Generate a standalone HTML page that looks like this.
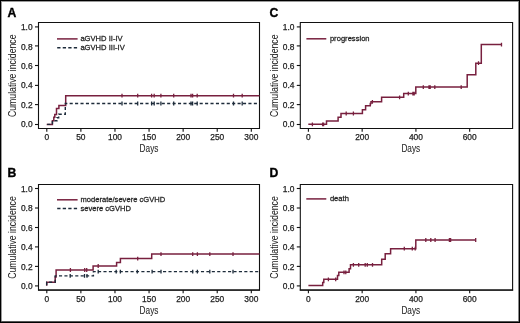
<!DOCTYPE html>
<html><head><meta charset="utf-8"><style>
html,body{margin:0;padding:0;background:#fff;}
body{width:520px;height:323px;overflow:hidden;}
svg{display:block;will-change:transform;}
text{font-family:"Liberation Sans",sans-serif;}
.tk{font-size:8.4px;fill:#222;stroke:#222;stroke-width:0.25px;}
.ttl{font-size:10.6px;fill:#222;stroke:#222;stroke-width:0.05px;}
.lg{font-size:8.0px;fill:#222;stroke:#222;stroke-width:0.25px;}
.pl{font-size:12.2px;font-weight:bold;fill:#000;stroke:#000;stroke-width:0.35px;}
</style></head><body>
<svg width="520" height="323" viewBox="0 0 520 323">
<rect x="0" y="0" width="520" height="323" fill="#fff"/>
<path d="M38.5 22.5H259.5V128.5H38.5Z" fill="none" stroke="#111" stroke-width="1.1"/>
<path d="M35 124.5H38.5" stroke="#111" stroke-width="1.1"/>
<text x="32.6" y="127" class="tk" text-anchor="end">0.0</text>
<path d="M35 104.6H38.5" stroke="#111" stroke-width="1.1"/>
<text x="32.6" y="108" class="tk" text-anchor="end">0.2</text>
<path d="M35 85.4H38.5" stroke="#111" stroke-width="1.1"/>
<text x="32.6" y="88" class="tk" text-anchor="end">0.4</text>
<path d="M35 65.5H38.5" stroke="#111" stroke-width="1.1"/>
<text x="32.6" y="69" class="tk" text-anchor="end">0.6</text>
<path d="M35 45.9H38.5" stroke="#111" stroke-width="1.1"/>
<text x="32.6" y="50" class="tk" text-anchor="end">0.8</text>
<path d="M35 26.9H38.5" stroke="#111" stroke-width="1.1"/>
<text x="32.6" y="30" class="tk" text-anchor="end">1.0</text>
<path d="M46.8 128.5V131.8" stroke="#111" stroke-width="1.1"/>
<text x="46.8" y="140" class="tk" text-anchor="middle">0</text>
<path d="M80.88 128.5V131.8" stroke="#111" stroke-width="1.1"/>
<text x="80.88" y="140" class="tk" text-anchor="middle">50</text>
<path d="M114.97 128.5V131.8" stroke="#111" stroke-width="1.1"/>
<text x="114.97" y="140" class="tk" text-anchor="middle">100</text>
<path d="M149.06 128.5V131.8" stroke="#111" stroke-width="1.1"/>
<text x="149.06" y="140" class="tk" text-anchor="middle">150</text>
<path d="M183.14 128.5V131.8" stroke="#111" stroke-width="1.1"/>
<text x="183.14" y="140" class="tk" text-anchor="middle">200</text>
<path d="M217.22 128.5V131.8" stroke="#111" stroke-width="1.1"/>
<text x="217.22" y="140" class="tk" text-anchor="middle">250</text>
<path d="M251.31 128.5V131.8" stroke="#111" stroke-width="1.1"/>
<text x="251.31" y="140" class="tk" text-anchor="middle">300</text>
<text transform="translate(149 151.6) scale(0.78 1)" class="ttl" text-anchor="middle">Days</text>
<text transform="translate(15.9 75.75) rotate(-90) scale(0.82 1)" class="ttl" text-anchor="middle">Cumulative incidence</text>
<path d="M57 38.9H77.6" stroke="#78203f" stroke-width="1.5"/>
<text transform="translate(80.4 41) scale(0.95 1)" class="lg">aGVHD II-IV</text>
<path d="M57.2 47.7H77.6" stroke="#1d2b3a" stroke-width="1.5" stroke-dasharray="3.3 2.23"/>
<text transform="translate(80.4 50) scale(0.95 1)" class="lg">aGVHD III-IV</text>
<path d="M46.7 124.4H52.4V120.7H53.8V117.3H54.8V114.5H56.5V108.4H58.9V105.4H65.7V95.7H259.5" fill="none" stroke="#78203f" stroke-width="1.5"/>
<path d="M46.7 124.4H52.4V120.8H57V117.7H58.7V114.2H65.3V103.5H259.5" fill="none" stroke="#1d2b3a" stroke-width="1.4" stroke-dasharray="3.1 2.317" stroke-dashoffset="4.91"/>
<path d="M122 93.8v3.8M137.7 93.8v3.8M151.6 93.8v3.8M154.2 93.8v3.8M160.9 93.8v3.8M173.7 93.8v3.8M191 93.8v3.8M192.6 93.8v3.8M197.2 93.8v3.8M233.5 93.8v3.8M242.2 93.8v3.8" stroke="#78203f" stroke-width="1.3" fill="none"/>
<path d="M122 101.6v3.8M137.7 101.6v3.8M151.6 101.6v3.8M154.2 101.6v3.8M160.9 101.6v3.8M173.7 101.6v3.8M191 101.6v3.8M192.6 101.6v3.8M197.2 101.6v3.8M233.5 101.6v3.8M242.2 101.6v3.8" stroke="#1d2b3a" stroke-width="1.3" fill="none"/>
<path d="M38.5 184.5H259.5V290H38.5Z" fill="none" stroke="#111" stroke-width="1.1"/>
<path d="M37.95 290H260.05" stroke="#111" stroke-width="1.25"/>
<path d="M35 285.9H38.5" stroke="#111" stroke-width="1.1"/>
<text x="32.6" y="289" class="tk" text-anchor="end">0.0</text>
<path d="M35 266.4H38.5" stroke="#111" stroke-width="1.1"/>
<text x="32.6" y="270" class="tk" text-anchor="end">0.2</text>
<path d="M35 246.9H38.5" stroke="#111" stroke-width="1.1"/>
<text x="32.6" y="250" class="tk" text-anchor="end">0.4</text>
<path d="M35 227.5H38.5" stroke="#111" stroke-width="1.1"/>
<text x="32.6" y="231" class="tk" text-anchor="end">0.6</text>
<path d="M35 208H38.5" stroke="#111" stroke-width="1.1"/>
<text x="32.6" y="211" class="tk" text-anchor="end">0.8</text>
<path d="M35 188.5H38.5" stroke="#111" stroke-width="1.1"/>
<text x="32.6" y="192" class="tk" text-anchor="end">1.0</text>
<path d="M46.8 290V293.3" stroke="#111" stroke-width="1.1"/>
<text x="46.8" y="302" class="tk" text-anchor="middle">0</text>
<path d="M80.88 290V293.3" stroke="#111" stroke-width="1.1"/>
<text x="80.88" y="302" class="tk" text-anchor="middle">50</text>
<path d="M114.97 290V293.3" stroke="#111" stroke-width="1.1"/>
<text x="114.97" y="302" class="tk" text-anchor="middle">100</text>
<path d="M149.06 290V293.3" stroke="#111" stroke-width="1.1"/>
<text x="149.06" y="302" class="tk" text-anchor="middle">150</text>
<path d="M183.14 290V293.3" stroke="#111" stroke-width="1.1"/>
<text x="183.14" y="302" class="tk" text-anchor="middle">200</text>
<path d="M217.22 290V293.3" stroke="#111" stroke-width="1.1"/>
<text x="217.22" y="302" class="tk" text-anchor="middle">250</text>
<path d="M251.31 290V293.3" stroke="#111" stroke-width="1.1"/>
<text x="251.31" y="302" class="tk" text-anchor="middle">300</text>
<text transform="translate(149 314.1) scale(0.78 1)" class="ttl" text-anchor="middle">Days</text>
<text transform="translate(15.9 237.5) rotate(-90) scale(0.82 1)" class="ttl" text-anchor="middle">Cumulative incidence</text>
<path d="M57 199.8H77.6" stroke="#78203f" stroke-width="1.5"/>
<text transform="translate(80.4 202) scale(0.95 1)" class="lg">moderate/severe cGVHD</text>
<path d="M57.2 208.6H77.6" stroke="#1d2b3a" stroke-width="1.5" stroke-dasharray="3.3 2.23"/>
<text transform="translate(80.4 211) scale(0.95 1)" class="lg">severe cGVHD</text>
<path d="M46.7 285.7V282.3H55.2V277H56.1V270H93.1V266H116.6V262.4H120.4V258.6H151.7V254.1H259.5" fill="none" stroke="#78203f" stroke-width="1.5"/>
<path d="M46.7 285.7V282.3H55.2V275.9H93.4V271.6H259.5" fill="none" stroke="#1d2b3a" stroke-width="1.4" stroke-dasharray="3.1 2.317" stroke-dashoffset="4.99"/>
<path d="M70.4 268.1v3.8M84.7 268.1v3.8M86.7 268.1v3.8M98.2 264.1v3.8M137.7 256.7v3.8M161 252.2v3.8M192.7 252.2v3.8M197.4 252.2v3.8M209.8 252.2v3.8M233 252.2v3.8" stroke="#78203f" stroke-width="1.3" fill="none"/>
<path d="M70.2 274v3.8M84.5 274v3.8M87 274v3.8M98.2 269.7v3.8M116.2 269.7v3.8M120.4 269.7v3.8M137.3 269.7v3.8M152.1 269.7v3.8M161 269.7v3.8M192.7 269.7v3.8M197.4 269.7v3.8M209.8 269.7v3.8M233 269.7v3.8" stroke="#1d2b3a" stroke-width="1.3" fill="none"/>
<path d="M300.3 22.5H512.6V128.5H300.3Z" fill="none" stroke="#111" stroke-width="1.1"/>
<path d="M296.8 124.5H300.3" stroke="#111" stroke-width="1.1"/>
<text x="294.4" y="127" class="tk" text-anchor="end">0.0</text>
<path d="M296.8 104.6H300.3" stroke="#111" stroke-width="1.1"/>
<text x="294.4" y="108" class="tk" text-anchor="end">0.2</text>
<path d="M296.8 85.4H300.3" stroke="#111" stroke-width="1.1"/>
<text x="294.4" y="88" class="tk" text-anchor="end">0.4</text>
<path d="M296.8 65.5H300.3" stroke="#111" stroke-width="1.1"/>
<text x="294.4" y="69" class="tk" text-anchor="end">0.6</text>
<path d="M296.8 45.9H300.3" stroke="#111" stroke-width="1.1"/>
<text x="294.4" y="50" class="tk" text-anchor="end">0.8</text>
<path d="M296.8 26.9H300.3" stroke="#111" stroke-width="1.1"/>
<text x="294.4" y="30" class="tk" text-anchor="end">1.0</text>
<path d="M308.4 128.5V131.8" stroke="#111" stroke-width="1.1"/>
<text x="308.4" y="140" class="tk" text-anchor="middle">0</text>
<path d="M362.16 128.5V131.8" stroke="#111" stroke-width="1.1"/>
<text x="362.16" y="140" class="tk" text-anchor="middle">200</text>
<path d="M415.92 128.5V131.8" stroke="#111" stroke-width="1.1"/>
<text x="415.92" y="140" class="tk" text-anchor="middle">400</text>
<path d="M469.68 128.5V131.8" stroke="#111" stroke-width="1.1"/>
<text x="469.68" y="140" class="tk" text-anchor="middle">600</text>
<text transform="translate(410.8 151.6) scale(0.78 1)" class="ttl" text-anchor="middle">Days</text>
<text transform="translate(277.7 75.75) rotate(-90) scale(0.82 1)" class="ttl" text-anchor="middle">Cumulative incidence</text>
<path d="M306.4 38.8H326.3" stroke="#78203f" stroke-width="1.5"/>
<text transform="translate(329.9 41) scale(0.95 1)" class="lg">progression</text>
<path d="M308.3 124.3H326.5V120.9H338.1V117.2H341V113.5H362.4V109.7H365.6V105.8H370.3V103.5H371V101.8H381.6V97.3H403.7V93.6H415.8V87.1H467.2V74.8H475.8V63.2H481.3V44.6H501.5" fill="none" stroke="#78203f" stroke-width="1.5"/>
<path d="M312.4 122.4v3.8M322.6 122.4v3.8M323.6 122.4v3.8M346.2 111.6v3.8M353.4 111.6v3.8M372.4 99.9v3.8M399.6 95.4v3.8M408.3 91.7v3.8M412.9 91.7v3.8M414.2 91.7v3.8M423.3 85.2v3.8M429 85.2v3.8M430.2 85.2v3.8M434.8 85.2v3.8M461.2 85.2v3.8M478.5 61.3v3.8M501.5 42.7v3.8" stroke="#78203f" stroke-width="1.3" fill="none"/>
<path d="M300.3 184.5H512.6V290H300.3Z" fill="none" stroke="#111" stroke-width="1.1"/>
<path d="M299.75 290H513.15" stroke="#111" stroke-width="1.25"/>
<path d="M296.8 285.9H300.3" stroke="#111" stroke-width="1.1"/>
<text x="294.4" y="289" class="tk" text-anchor="end">0.0</text>
<path d="M296.8 266.4H300.3" stroke="#111" stroke-width="1.1"/>
<text x="294.4" y="270" class="tk" text-anchor="end">0.2</text>
<path d="M296.8 246.9H300.3" stroke="#111" stroke-width="1.1"/>
<text x="294.4" y="250" class="tk" text-anchor="end">0.4</text>
<path d="M296.8 227.5H300.3" stroke="#111" stroke-width="1.1"/>
<text x="294.4" y="231" class="tk" text-anchor="end">0.6</text>
<path d="M296.8 208H300.3" stroke="#111" stroke-width="1.1"/>
<text x="294.4" y="211" class="tk" text-anchor="end">0.8</text>
<path d="M296.8 188.5H300.3" stroke="#111" stroke-width="1.1"/>
<text x="294.4" y="192" class="tk" text-anchor="end">1.0</text>
<path d="M308.4 290V293.3" stroke="#111" stroke-width="1.1"/>
<text x="308.4" y="302" class="tk" text-anchor="middle">0</text>
<path d="M362.16 290V293.3" stroke="#111" stroke-width="1.1"/>
<text x="362.16" y="302" class="tk" text-anchor="middle">200</text>
<path d="M415.92 290V293.3" stroke="#111" stroke-width="1.1"/>
<text x="415.92" y="302" class="tk" text-anchor="middle">400</text>
<path d="M469.68 290V293.3" stroke="#111" stroke-width="1.1"/>
<text x="469.68" y="302" class="tk" text-anchor="middle">600</text>
<text transform="translate(410.8 314.1) scale(0.78 1)" class="ttl" text-anchor="middle">Days</text>
<text transform="translate(277.7 237.5) rotate(-90) scale(0.82 1)" class="ttl" text-anchor="middle">Cumulative incidence</text>
<path d="M306.3 198.9H326.3" stroke="#78203f" stroke-width="1.5"/>
<text transform="translate(329.9 201) scale(0.95 1)" class="lg">death</text>
<path d="M308.4 285.6H322.7V282.5H323.8V279.3H337.5V275.5H338.8V272.3H349.1V268.8H350.5V264.8H381.7V259.2H385.2V253.7H390.6V248.7H415.8V240H475.7" fill="none" stroke="#78203f" stroke-width="1.5"/>
<path d="M328.4 277.4v3.8M335.7 277.4v3.8M344 270.4v3.8M345.8 270.4v3.8M353.4 262.9v3.8M358.7 262.9v3.8M365.2 262.9v3.8M367.3 262.9v3.8M372.5 262.9v3.8M404.3 246.8v3.8M412.3 246.8v3.8M415.2 246.8v3.8M425.8 238.1v3.8M430.8 238.1v3.8M435.1 238.1v3.8M449.4 238.1v3.8M450.6 238.1v3.8M475.7 238.1v3.8" stroke="#78203f" stroke-width="1.3" fill="none"/>
<text x="7.6" y="16.8" class="pl">A</text>
<text x="7.6" y="176.6" class="pl">B</text>
<text x="269.4" y="16.8" class="pl">C</text>
<text x="269.4" y="176.6" class="pl">D</text>
<rect x="1" y="1" width="518" height="1" fill="#9a9a9a"/>
<rect x="1" y="1" width="1" height="321" fill="#9a9a9a"/>
<rect x="518" y="1" width="1" height="321" fill="#888"/>
<rect x="1" y="321" width="518" height="1" fill="#555"/>
<rect x="0" y="0" width="520" height="1" fill="#000"/>
<rect x="0" y="0" width="1" height="323" fill="#000"/>
<rect x="519" y="0" width="1" height="323" fill="#000"/>
<rect x="0" y="322" width="520" height="1" fill="#000"/>
</svg>
</body></html>
